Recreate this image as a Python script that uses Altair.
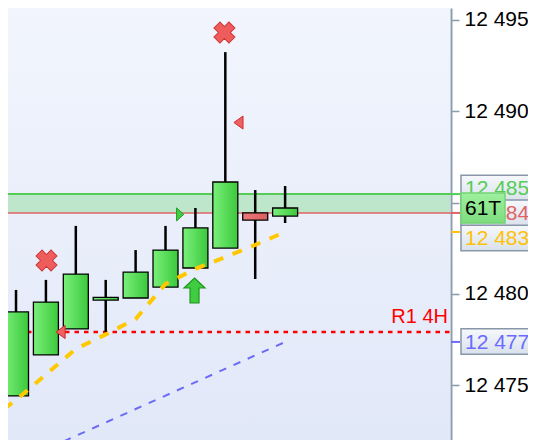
import altair as alt
import pandas as pd

# ---------------- data ----------------
candle_idx = [0, 1, 2, 3, 4, 5, 6, 7, 8, 9]
opens  = [12474.43, 12476.67, 12478.09, 12479.67, 12479.78, 12480.38, 12481.42, 12482.51, 12484.43, 12484.26]
highs  = [12480.22, 12480.77, 12483.72, 12480.77, 12482.40, 12483.72, 12484.70, 12493.22, 12485.68, 12485.90]
lows   = [12474.43, 12476.67, 12478.09, 12477.92, 12479.78, 12480.38, 12481.42, 12482.51, 12480.82, 12483.88]
closes = [12479.02, 12479.56, 12481.09, 12479.82, 12481.20, 12482.40, 12483.61, 12486.12, 12484.04, 12484.70]

ma_x = [-0.4, 0, 1, 2, 3, 4, 5, 6, 7, 8, 9]
ma_y = [12473.72, 12474.20, 12475.60, 12477.00, 12477.79, 12478.63, 12480.55, 12481.37, 12482.02, 12482.68, 12483.39]

trend_x = [1.6, 9.0]
trend_y = [12471.95, 12477.38]

green_level = 12485.46
red_level = 12484.43
r1_level = 12477.92
r1_label = "R1 4H"

tick_values = [12475, 12480, 12485, 12490, 12495]

tag_prices = [12485.79, 12484.43, 12483.06, 12477.40]
tag_labels = ["12 485,", "12 484,", "12 483,", "12 477,"]
tag_colors = ["#55cc55", "#e06464", "#ffc107", "#6b6bff"]

axis_tick_prices = [green_level, red_level, 12483.39, 12477.38]
axis_tick_colors = ["#55cc55", "#e06464", "#ffc107", "#6b6bff"]

count_price = 12484.70
count_label = "61T"

cross_x = [1.02, 6.97]
cross_y = [12481.83, 12494.29]
tri_left_x = [1.49, 7.44]
tri_left_y = [12477.92, 12489.37]
tri_right_x = [5.49]
tri_right_y = [12484.35]
arrow_x = [5.97]
arrow_y = [12480.19]

# ---------------- layout ----------------
W, H = 443, 432
FONT = "Liberation Sans"
x_scale = alt.Scale(domain=[-0.268, 14.548], nice=False, zero=False)
y_scale = alt.Scale(domain=[12472.02, 12495.63], nice=False, zero=False)

y_axis = alt.Axis(
    orient="right", values=tick_values, title=None,
    labelExpr="datum.value == 12485 ? '' : replace(format(datum.value, ','), ',', ' ')",
    labelFont=FONT, labelFontSize=21, labelColor="#000000", labelPadding=5,
    domainColor="#8b9fb0", domainWidth=2, tickColor="#8b9aa8", tickSize=8, tickWidth=1.5,
    grid=False, labelFlush=False, labelOverlap=False,
)


def X(f):
    return alt.X(f, type="quantitative", scale=x_scale, axis=None)


def Y(f):
    return alt.Y(f, type="quantitative", scale=y_scale, axis=y_axis)


candles = pd.DataFrame({"i": candle_idx, "open": opens, "high": highs, "low": lows, "close": closes})
candles["x0"] = candles["i"] - 0.418
candles["x1"] = candles["i"] + 0.418
bull = candles[candles["close"] >= candles["open"]]
bear = candles[candles["close"] < candles["open"]]


def grad_h(c0, c1):
    return alt.Gradient(gradient="linear", x1=0, y1=0, x2=1, y2=0,
                        stops=[alt.GradientStop(offset=0, color=c0), alt.GradientStop(offset=1, color=c1)])


def grad_v(c0, c1):
    return alt.Gradient(gradient="linear", x1=0, y1=0, x2=0, y2=1,
                        stops=[alt.GradientStop(offset=0, color=c0), alt.GradientStop(offset=1, color=c1)])


one = pd.DataFrame({"a": [0]})

bg = alt.Chart(one).mark_rect(color=grad_v("#f2f5fd", "#e1e8f8")).encode(
    x=alt.value(0), x2=alt.value(W - 1), y=alt.value(0), y2=alt.value(H))

band = alt.Chart(pd.DataFrame({"lo": [red_level], "hi": [green_level]})).mark_rect(color="#bde6ca").encode(
    x=alt.value(0), x2=alt.value(W - 1), y=Y("lo"), y2=alt.Y2("hi"))

green_line = alt.Chart(pd.DataFrame({"p": [green_level]})).mark_rule(color="#55cc55", strokeWidth=2).encode(
    x=alt.value(0), x2=alt.value(W), y=Y("p"))
red_line = alt.Chart(pd.DataFrame({"p": [red_level]})).mark_rule(color="#e06464", strokeWidth=1.5).encode(
    x=alt.value(0), x2=alt.value(W), y=Y("p"))
r1_line = alt.Chart(pd.DataFrame({"p": [r1_level]})).mark_rule(
    color="#ff0000", strokeWidth=2.5, strokeDash=[4.5, 5]).encode(
    x=alt.value(0), x2=alt.value(W - 1), y=Y("p"))

r1_text = alt.Chart(pd.DataFrame({"x": [14.45], "p": [12478.42], "t": [r1_label]})).mark_text(
    align="right", baseline="alphabetic", font=FONT, fontSize=20, color="#ff0000").encode(
    x=X("x"), y=Y("p"), text="t:N")

wicks = alt.Chart(candles).mark_rule(color="#000000", strokeWidth=2.5).encode(
    x=X("i"), y=Y("low"), y2=alt.Y2("high"))

bull_bodies = alt.Chart(bull).mark_rect(
    color=grad_h("#7af07a", "#3cc83c"), stroke="#000000", strokeWidth=1.3).encode(
    x=X("x0"), x2=alt.X2("x1"), y=Y("open"), y2=alt.Y2("close"))
bear_bodies = alt.Chart(bear).mark_rect(
    color=grad_h("#ec7a7a", "#dc5e5e"), stroke="#000000", strokeWidth=1.3).encode(
    x=X("x0"), x2=alt.X2("x1"), y=Y("open"), y2=alt.Y2("close"))

ma_line = alt.Chart(pd.DataFrame({"x": ma_x, "p": ma_y})).mark_line(
    color="#ffc800", strokeWidth=4, strokeDash=[10, 10], clip=True).encode(
    x=X("x"), y=Y("p"))

trend_line = alt.Chart(pd.DataFrame({"x": trend_x, "p": trend_y})).mark_line(
    color="#6b6bf5", strokeWidth=2, strokeDash=[7.5, 8], clip=True).encode(
    x=X("x"), y=Y("p"))

crosses = alt.Chart(pd.DataFrame({"x": cross_x, "p": cross_y})).mark_point(
    shape="cross", angle=45, size=450, filled=True, color="#ee5c5c",
    stroke="#c93535", strokeWidth=1, opacity=1).encode(x=X("x"), y=Y("p"))

tri_left = alt.Chart(pd.DataFrame({"x": tri_left_x, "p": tri_left_y})).mark_point(
    shape="M 0.7 -1 L 0.7 1 L -0.7 0 Z", size=169, filled=True, color="#ee6262",
    stroke="#cc2c2c", strokeWidth=1, opacity=1).encode(x=X("x"), y=Y("p"))

tri_right = alt.Chart(pd.DataFrame({"x": tri_right_x, "p": tri_right_y})).mark_point(
    shape="M -0.55 -1 L 0.55 0 L -0.55 1 Z", size=169, filled=True, color="#44cc44",
    stroke="#229922", strokeWidth=1, opacity=1).encode(x=X("x"), y=Y("p"))

arrow = alt.Chart(pd.DataFrame({"x": arrow_x, "p": arrow_y})).mark_point(
    shape="M 0 -1 L 0.84 -0.2 L 0.36 -0.2 L 0.36 1 L -0.36 1 L -0.36 -0.2 L -0.84 -0.2 Z",
    size=625, filled=True, color="#40cc40", stroke="#1f961f", strokeWidth=1.2, opacity=1).encode(
    x=X("x"), y=Y("p"))

axis_ticks = alt.Chart(pd.DataFrame({"p": axis_tick_prices, "c": axis_tick_colors})).mark_rule(
    strokeWidth=2).encode(x=alt.value(W), x2=alt.value(W + 9), y=Y("p"),
                          color=alt.Color("c:N", scale=None, legend=None))

tags = pd.DataFrame({"p": tag_prices, "t": tag_labels, "c": tag_colors})
tag_boxes = alt.Chart(tags).transform_calculate(
    top="datum.p + 0.70", bot="datum.p - 0.70").mark_rect(
    color=grad_v("#f6f8fc", "#d9e1ec"), stroke="#8797a8", strokeWidth=1.5).encode(
    x=alt.value(W + 10), x2=alt.value(W + 110), y=Y("top:Q"), y2=alt.Y2("bot:Q"))
tag_texts = alt.Chart(tags).mark_text(
    align="left", baseline="middle", font=FONT, fontSize=21, dy=1).encode(
    x=alt.value(W + 14), y=Y("p"), text="t:N", color=alt.Color("c:N", scale=None, legend=None))

count_df = pd.DataFrame({"p": [count_price], "t": [count_label]})
count_box = alt.Chart(count_df).transform_calculate(
    top="datum.p + 0.82", bot="datum.p - 0.82").mark_rect(
    color=grad_v("#9ef09e", "#7edc7e"), stroke="#74d474", strokeWidth=1.5).encode(
    x=alt.value(W + 10), x2=alt.value(W + 54), y=Y("top:Q"), y2=alt.Y2("bot:Q"))
count_text = alt.Chart(count_df).mark_text(
    align="left", baseline="middle", font=FONT, fontSize=21, color="#000000", dy=1).encode(
    x=alt.value(W + 14), y=Y("p"), text="t:N")

chart = alt.layer(
    bg, band, green_line, red_line, r1_line, r1_text,
    wicks, bull_bodies, bear_bodies, ma_line, trend_line,
    crosses, tri_left, tri_right, arrow,
    axis_ticks, tag_boxes, tag_texts, count_box, count_text,
).properties(
    width=W, height=H,
    padding={"left": 0, "top": 0, "right": 77, "bottom": 0},
    autosize=alt.AutoSizeParams(type="none"),
    background="#ffffff",
).configure_view(stroke=None)

chart.save("out.html", embed_options={"renderer": "svg", "actions": False})
